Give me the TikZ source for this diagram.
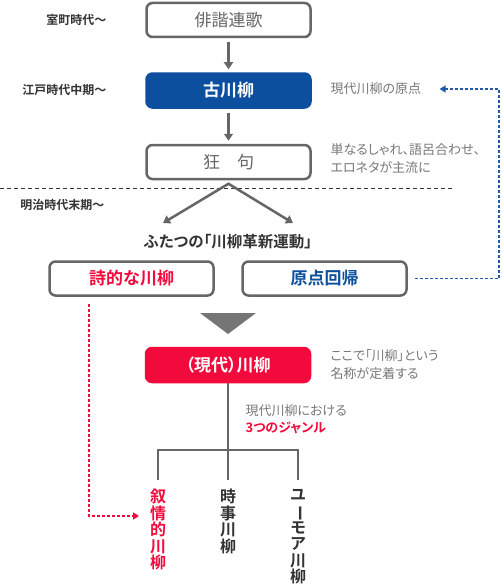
\documentclass[tikz,border=0pt]{standalone}
\usepackage{fontspec}
\setmainfont{Noto Sans CJK JP}[BoldFont={Noto Sans CJK JP Bold}]
\newfontfamily\propjp{Noto Sans CJK JP}[BoldFont={Noto Sans CJK JP Bold}, RawFeature=+palt]
\usetikzlibrary{positioning, arrows.meta}
\definecolor{boxgray}{HTML}{666666}
\definecolor{senblue}{HTML}{0C4F9E}
\definecolor{linkblue}{HTML}{1F5BA8}
\definecolor{senred}{HTML}{F20A3C}
\definecolor{notegray}{HTML}{777777}
\definecolor{darktext}{HTML}{333333}
\tikzset{
  era/.style={anchor=east, font=\fontsize{12}{14}\selectfont\bfseries, text=darktext},
  stage/.style={draw=boxgray, line width=2.5pt, rounded corners=6pt, minimum width=164pt, minimum height=34pt, font=\fontsize{17}{20}\selectfont},
  note/.style={anchor=west, align=left, font=\fontsize{13}{18}\selectfont\propjp, text=notegray},
  flow/.style={draw=boxgray, line width=2.5pt, shorten <=4pt, shorten >=3pt, -{Triangle[length=7pt,width=9pt]}},
  tree/.style={draw=boxgray, line width=2.5pt},
  genre/.style={anchor=north, align=center, inner ysep=9pt, font=\fontsize{16}{16.5}\selectfont\bfseries},
  dotlink/.style={line width=1.6pt, dash pattern=on 3pt off 2pt, -{Triangle[length=6pt,width=7pt]}}
}

\begin{document}
\begin{tikzpicture}[x=1pt, y=-1pt]
    \useasboundingbox (0,0) rectangle (501,586);
    % main column
    \node (haikai) [stage, text=boxgray] at (228.5,20) {俳諧連歌};
    \node (kosen) [stage, draw=senblue, fill=senblue, text=white, font=\fontsize{17}{20}\selectfont\bfseries, below=34pt of haikai] {古川柳};
    \node (kyouku) [stage, text=boxgray, below=35pt of kosen] {狂　句};
    \draw [flow] (haikai) -- (kosen);
    \draw [flow] (kosen) -- (kyouku);
    % eras
    \node [era] at (110,20) {室町時代～};
    \node [era] at (110,90) {江戸時代中期～};
    \node [era] at (108,205) {明治時代末期～};
    \draw [darktext, line width=0.9pt, dash pattern=on 4pt off 3pt] (0,188) -- (455,188);
    % split
    \coordinate (split) at ([yshift=-3.5pt]kyouku.south);
    \coordinate (tipL) at (163,223);
    \coordinate (tipR) at (293,223);
    \draw [draw=boxgray, line width=2.5pt, line join=miter, {Triangle[length=7pt,width=9pt]}-{Triangle[length=7pt,width=9pt]}] (tipL) -- (split) -- (tipR);
    \node (movement) at (228,242) [font=\fontsize{15.5}{18}\selectfont\propjp\bfseries, text=darktext] {ふたつの「川柳革新運動」};
    \node (shiteki) [stage, text=senred, font=\fontsize{17}{20}\selectfont\bfseries] at (131.5,278.5) {詩的な川柳};
    \node (genten) [stage, text=senblue, font=\fontsize{17}{20}\selectfont\bfseries] at (324.5,278.5) {原点回帰};
    \fill [boxgray!90] (200,313) -- (256,313) -- (228,334) -- cycle;
    \node (gendai) [stage, draw=senred, fill=senred, text=white, font=\fontsize{17}{20}\selectfont\propjp\bfseries] at (228,365) {（現代）川柳};
    % notes
    \node (origin) [note] at (327,89) {現代川柳の原点};
    \node (kyounote) [note] at (327,159) {単なるしゃれ、語呂合わせ、\\エロネタが主流に};
    \node (namenote) [note] at (327,365) {ここで「川柳」という\\名称が定着する};
    \node (genrenote) [note, font=\fontsize{13}{16.5}\selectfont\propjp] at (242,419) {現代川柳における\\\textcolor{senred}{\bfseries 3つのジャンル}};
    % blue link
    \coordinate (bendB) at (499,278.5);
    \coordinate (bendT) at (499,89);
    \draw [dotlink, linkblue, shorten <=7pt, shorten >=15pt] (genten.east) -- (bendB) -- (bendT) -- (origin.east);
    % genres
    \node (jojo) [genre, text=senred] at (158,480) {叙\\情\\的\\川\\柳};
    \node (jiji) [genre, text=darktext] at (228,480) {時\\事\\川\\柳};
    \node (humor) [genre, text=darktext] at (298,480) {ユ\\\rotatebox[origin=c]{-90}{ー}\\モ\\ア\\川\\柳};
    \coordinate (fork) at (228,450);
    \draw [tree] (gendai.south) -- (jiji.north);
    \draw [tree] (jojo.north) |- (fork) -| (humor.north);
    % red link
    \coordinate (redstart) at ([xshift=-42.5pt, yshift=-7pt]shiteki.south);
    \coordinate (redend) at (139,516);
    \draw [dotlink, senred] (redstart) |- (redend);
\end{tikzpicture}
\end{document}
